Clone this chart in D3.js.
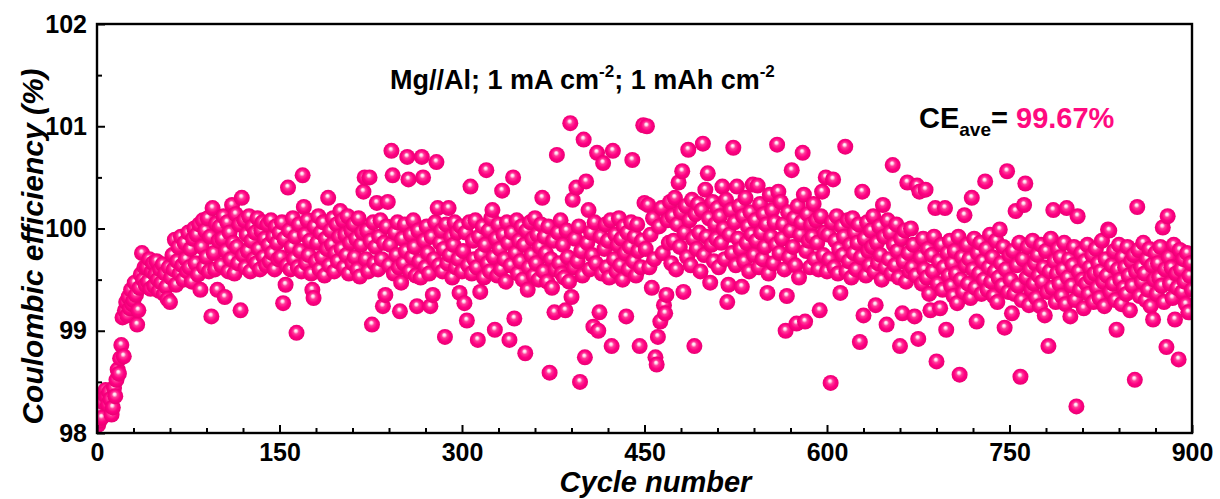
<!DOCTYPE html>
<html>
<head>
<meta charset="utf-8">
<script src="https://cdn.jsdelivr.net/npm/d3@7"></script>
<style>
  html, body { margin: 0; padding: 0; background: #ffffff; }
  svg { display: block; font-family: "Liberation Sans", Arial, sans-serif; }
</style>
</head>
<body>
<svg id="chart" width="1220" height="499"></svg>
<script>
// Coulombic efficiency (%) per cycle, Mg//Al cell, cycles 1-900, split in blocks of 150 cycles
const ceCycles1to150 = [
  98.08, 98.12, 98.22, 98.15, 98.30, 98.38, 98.42, 98.35, 98.28, 98.40,
  98.33, 98.18, 98.25, 98.44, 98.36, 98.52, 98.62, 98.58, 98.73, 98.86,
  99.13, 98.75, 99.20, 99.28, 99.15, 99.33, 99.22, 99.40, 99.26, 99.30,
  99.47, 99.35, 99.06, 99.20, 99.42, 99.55, 99.76, 99.50, 99.62, 99.45,
  99.62, 99.48, 99.70, 99.41, 99.58, 99.66, 99.44, 99.55, 99.68, 99.50,
  99.39, 99.60, 99.47, 99.65, 99.36, 99.56, 99.43, 99.31, 99.62, 99.28,
  99.52, 99.74, 99.60, 99.89, 99.45, 99.68, 99.82, 99.56, 99.92, 99.64,
  99.50, 99.86, 99.70, 99.58, 99.96, 99.62, 99.80, 99.48, 99.90, 100.00,
  99.66, 99.94, 99.55, 100.04, 99.40, 99.82, 100.08, 99.62, 99.98, 99.72,
  100.10, 99.58, 99.92, 99.14, 100.20, 99.76, 99.60, 100.05, 99.40, 99.88,
  100.02, 99.64, 99.90, 100.12, 99.33, 99.78, 100.06, 99.58, 99.96, 99.70,
  100.23, 99.86, 99.56, 100.14, 99.82, 99.66, 100.04, 99.20, 100.30, 99.74,
  100.08, 99.62, 99.94, 99.78, 100.12, 99.58, 99.88, 100.02, 99.70, 99.96,
  99.66, 100.10, 99.80, 99.60, 99.98, 100.06, 99.72, 99.90, 99.64, 100.04,
  99.84, 99.68, 100.08, 99.76, 99.92, 99.60, 100.02, 99.86, 99.70, 99.96
];
const ceCycles151to300 = [
  99.72, 100.06, 99.27, 99.90, 99.45, 99.64, 100.40, 99.98, 99.60, 99.82,
  100.10, 99.70, 99.92, 98.98, 99.62, 100.04, 99.78, 99.58, 100.52, 100.21,
  99.94, 99.66, 100.08, 99.74, 99.88, 99.56, 99.40, 99.32, 100.02, 99.68,
  99.86, 100.12, 99.60, 99.96, 99.72, 100.06, 99.54, 99.90, 99.80, 100.30,
  99.64, 99.98, 99.84, 100.10, 99.58, 99.76, 100.04, 99.68, 99.92, 100.17,
  99.80, 100.08, 99.62, 99.94, 99.74, 100.12, 99.56, 99.86, 99.98, 99.66,
  100.04, 99.72, 99.90, 99.60, 100.10, 99.53, 99.84, 99.96, 100.36, 100.50,
  99.70, 99.98, 99.58, 100.50, 99.88, 99.06, 100.06, 99.66, 99.82, 100.25,
  99.60, 99.92, 100.08, 99.70, 99.24, 99.86, 99.35, 100.02, 100.26, 99.64,
  99.84, 100.76, 100.52, 99.56, 99.96, 99.74, 100.06, 99.62, 99.19, 99.47,
  99.90, 99.66, 100.04, 99.78, 100.70, 100.48, 99.58, 99.94, 99.72, 100.08,
  99.82, 99.54, 99.24, 99.98, 99.68, 99.52, 100.70, 100.50, 99.88, 99.62,
  100.02, 99.76, 99.56, 99.24, 99.92, 99.35, 99.70, 100.06, 100.65, 100.20,
  99.64, 99.86, 99.98, 99.58, 99.80, 98.94, 100.04, 99.66, 100.20, 99.74,
  99.92, 99.52, 99.84, 100.06, 99.62, 99.96, 99.70, 99.37, 100.02, 99.58
];
const ceCycles301to450 = [
  99.78, 99.27, 99.96, 99.10, 99.64, 100.06, 100.41, 99.56, 99.88, 99.70,
  100.08, 99.62, 98.91, 99.92, 99.38, 99.74, 100.02, 99.52, 99.84, 100.57,
  99.66, 99.98, 99.58, 100.10, 100.18, 99.72, 99.01, 99.90, 99.54, 100.04,
  99.80, 99.60, 100.37, 99.94, 99.70, 99.48, 100.06, 99.86, 98.91, 99.64,
  99.96, 100.50, 99.12, 99.76, 100.08, 99.56, 99.88, 99.68, 100.02, 99.50,
  99.84, 98.78, 99.98, 99.40, 99.62, 100.06, 99.74, 99.90, 99.54, 100.10,
  99.66, 99.94, 99.50, 99.82, 100.04, 100.30, 99.58, 99.92, 99.76, 99.48,
  100.02, 98.59, 99.70, 99.42, 99.88, 99.18, 99.60, 100.72, 99.96, 99.66,
  100.08, 99.56, 99.84, 99.52, 99.20, 99.98, 99.72, 99.48, 101.03, 99.33,
  100.28, 99.62, 99.90, 100.40, 99.68, 100.02, 98.50, 99.78, 99.54, 100.87,
  98.74, 100.46, 99.86, 100.18, 99.60, 99.96, 99.74, 99.04, 100.06, 99.66,
  100.74, 99.00, 99.18, 99.92, 99.56, 100.64, 99.80, 100.04, 99.62, 99.88,
  99.52, 100.08, 98.85, 100.76, 99.70, 99.94, 99.58, 99.84, 100.10, 99.64,
  99.90, 99.50, 100.02, 99.76, 99.14, 99.96, 99.60, 99.82, 100.06, 100.67,
  99.68, 99.92, 99.54, 100.04, 99.78, 98.85, 99.62, 99.88, 101.01, 100.25
];
const ceCycles451to600 = [
  99.80, 101.00, 100.23, 99.62, 99.94, 99.42, 100.10, 99.70, 98.74, 98.67,
  98.94, 100.02, 99.09, 100.20, 99.76, 99.25, 99.17, 99.35, 100.08, 99.86,
  100.26, 99.66, 100.12, 99.88, 100.30, 99.60, 100.04, 100.45, 99.82, 100.16,
  100.56, 99.38, 99.96, 100.22, 99.72, 100.77, 100.08, 99.64, 100.28, 99.90,
  98.85, 100.14, 99.80, 100.24, 99.96, 99.58, 100.18, 100.83, 99.74, 100.38,
  99.92, 100.54, 100.10, 99.47, 99.84, 100.26, 99.68, 100.04, 99.90, 100.20,
  99.62, 100.12, 99.86, 100.41, 100.00, 99.70, 100.28, 99.28, 99.45, 99.94,
  100.18, 99.76, 100.79, 100.06, 99.64, 100.41, 99.90, 100.22, 99.80, 99.43,
  100.12, 99.68, 100.30, 99.86, 100.02, 99.58, 100.16, 99.94, 100.43, 99.74,
  100.08, 99.88, 100.42, 99.62, 100.24, 99.96, 99.70, 100.14, 99.82, 100.04,
  99.37, 99.56, 100.33, 99.92, 100.18, 99.66, 100.06, 99.84, 100.82, 100.36,
  99.76, 100.26, 99.90, 100.04, 99.60, 99.00, 99.34, 100.16, 99.72, 99.98,
  100.57, 99.82, 100.10, 99.64, 99.07, 100.22, 99.52, 99.94, 100.06, 100.74,
  100.33, 99.09, 99.78, 100.14, 99.88, 99.62, 100.04, 99.92, 100.24, 99.70,
  100.08, 99.86, 99.60, 99.20, 100.12, 100.36, 99.74, 99.96, 100.50, 99.58
];
const ceCycles601to750 = [
  99.94, 99.70, 98.49, 100.06, 100.48, 99.62, 99.88, 100.12, 99.56, 99.80,
  99.37, 100.02, 99.74, 99.92, 100.80, 99.58, 100.08, 99.68, 99.84, 99.52,
  100.10, 99.76, 99.96, 99.60, 99.86, 100.04, 98.89, 99.72, 100.36, 99.15,
  99.90, 99.54, 100.06, 99.78, 99.64, 99.98, 99.82, 100.12, 99.58, 99.25,
  99.86, 99.66, 100.02, 99.74, 99.50, 100.23, 99.92, 99.62, 99.06, 100.08,
  99.70, 99.96, 99.56, 100.62, 99.84, 99.64, 100.04, 99.78, 99.52, 98.85,
  99.90, 99.17, 99.68, 99.98, 99.48, 100.45, 99.76, 99.58, 100.00, 99.62,
  99.84, 99.14, 99.54, 100.42, 98.92, 100.36, 99.72, 99.46, 99.90, 99.60,
  100.38, 99.52, 99.80, 99.36, 99.20, 99.74, 99.58, 99.92, 100.20, 98.70,
  99.46, 99.68, 99.22, 99.84, 99.40, 99.62, 100.20, 99.01, 99.76, 99.54,
  99.88, 99.44, 99.66, 99.34, 99.78, 99.56, 99.27, 99.92, 98.57, 99.50,
  99.72, 99.38, 100.13, 99.64, 99.84, 99.46, 99.70, 99.32, 100.30, 99.60,
  99.90, 99.42, 99.09, 99.76, 99.56, 99.86, 99.36, 99.68, 99.50, 100.46,
  99.80, 99.40, 99.62, 99.94, 99.48, 99.72, 99.34, 99.58, 99.88, 99.28,
  99.52, 99.99, 99.66, 99.44, 99.82, 99.03, 99.60, 100.56, 99.38, 99.74
];
const ceCycles751to900 = [
  99.50, 99.17, 99.78, 99.36, 100.17, 99.64, 99.44, 99.86, 98.55, 99.30,
  99.70, 100.23, 100.44, 99.52, 99.82, 99.25, 99.60, 99.40, 99.88, 99.46,
  99.66, 99.32, 99.74, 99.54, 99.24, 99.84, 99.48, 99.62, 99.15, 99.78,
  99.38, 98.85, 99.58, 99.90, 99.42, 100.18, 99.68, 99.28, 99.56, 99.80,
  99.46, 99.72, 99.34, 99.60, 99.86, 99.26, 100.20, 99.52, 99.70, 99.14,
  99.44, 99.64, 99.82, 99.30, 98.26, 100.12, 99.58, 99.40, 99.76, 99.50,
  99.22, 99.68, 99.46, 99.84, 99.36, 99.62, 99.52, 99.74, 99.28, 99.56,
  99.80, 99.42, 99.66, 99.32, 99.58, 99.88, 99.48, 99.24, 99.70, 99.54,
  99.99, 99.98, 99.38, 99.64, 99.46, 99.78, 99.30, 99.01, 99.60, 99.84,
  99.50, 99.26, 99.72, 99.42, 99.62, 99.36, 99.82, 99.54, 99.20, 99.68,
  99.44, 99.74, 98.52, 99.58, 100.21, 99.79, 99.34, 99.62, 99.48, 99.86,
  99.56, 99.30, 99.70, 99.40, 99.80, 99.24, 99.64, 99.11, 99.50, 99.76,
  99.36, 99.66, 99.52, 99.82, 99.44, 100.01, 99.28, 99.60, 98.84, 100.12,
  99.72, 99.46, 99.62, 99.32, 99.84, 99.11, 99.56, 99.42, 98.72, 99.79,
  99.60, 99.38, 99.70, 99.48, 99.26, 99.76, 99.18, 99.54, 99.66, 99.40
];

// Axis ticks
const xMajorTicks = [0, 150, 300, 450, 600, 750, 900];
const xMinorTicks = [30, 60, 90, 120, 180, 210, 240, 270, 330, 360, 390, 420,
                     480, 510, 540, 570, 630, 660, 690, 720, 780, 810, 840, 870];
const yMajorTicks = [98, 99, 100, 101, 102];
const yMinorTicks = [98.5, 99.5, 100.5, 101.5];

const averageCE = "99.67%";

const ceValues = [].concat(ceCycles1to150, ceCycles151to300, ceCycles301to450,
                           ceCycles451to600, ceCycles601to750, ceCycles751to900);
const points = ceValues.map((v, i) => ({ cycle: i + 1, ce: v }));

const svg = d3.select("#chart");
const plot = { left: 97, right: 1192, top: 24, bottom: 433 };

const x = d3.scaleLinear().domain([0, 900]).range([plot.left, plot.right]);
const y = d3.scaleLinear().domain([98, 102]).range([plot.bottom, plot.top]);

const pink = "#ff0a80";

// sphere shading for the markers
const defs = svg.append("defs");
const grad = defs.append("radialGradient")
  .attr("id", "ball")
  .attr("cx", "0.5").attr("cy", "0.5").attr("r", "0.55")
  .attr("fx", "0.45").attr("fy", "0.36");
[["0%", "#ffffff"], ["14%", "#ffd6ea"], ["32%", "#ff3c9a"], ["60%", "#ff0083"], ["100%", "#e5006f"]]
  .forEach(([o, c]) => grad.append("stop").attr("offset", o).attr("stop-color", c));

defs.append("clipPath").attr("id", "plotClip")
  .append("rect")
  .attr("x", plot.left).attr("y", plot.top)
  .attr("width", plot.right - plot.left).attr("height", plot.bottom - plot.top);

// markers
svg.append("g")
  .attr("clip-path", "url(#plotClip)")
  .selectAll("circle")
  .data(points)
  .join("circle")
  .attr("cx", d => x(d.cycle))
  .attr("cy", d => y(d.ce))
  .attr("r", 8)
  .attr("fill", "url(#ball)");

// frame
svg.append("rect")
  .attr("x", plot.left).attr("y", plot.top)
  .attr("width", plot.right - plot.left).attr("height", plot.bottom - plot.top)
  .attr("fill", "none").attr("stroke", "#000").attr("stroke-width", 2.4);

// axes with inward ticks
function styleAxis(g) {
  g.select(".domain").remove();
  g.selectAll(".tick line").attr("stroke", "#000").attr("stroke-width", 2);
  g.selectAll("text")
    .attr("fill", "#000")
    .attr("font-family", "Liberation Sans, Arial, sans-serif")
    .attr("font-weight", "bold")
    .attr("font-size", 25);
}

svg.append("g")
  .attr("transform", `translate(0,${plot.bottom})`)
  .call(d3.axisBottom(x).tickValues(xMajorTicks).tickSize(-8).tickPadding(10).tickFormat(d3.format("d")))
  .call(styleAxis);
svg.append("g")
  .attr("transform", `translate(0,${plot.bottom})`)
  .call(d3.axisBottom(x).tickValues(xMinorTicks).tickSize(-5).tickFormat(""))
  .call(styleAxis);

svg.append("g")
  .attr("transform", `translate(${plot.left},0)`)
  .call(d3.axisLeft(y).tickValues(yMajorTicks).tickSize(-8).tickPadding(10).tickFormat(d3.format("d")))
  .call(styleAxis);
svg.append("g")
  .attr("transform", `translate(${plot.left},0)`)
  .call(d3.axisLeft(y).tickValues(yMinorTicks).tickSize(-5).tickFormat(""))
  .call(styleAxis);

// axis titles
svg.append("text")
  .attr("x", (plot.left + plot.right) / 2 + 11)
  .attr("y", 492)
  .attr("text-anchor", "middle")
  .attr("font-size", 29).attr("font-weight", "bold").attr("font-style", "italic")
  .text("Cycle number");

svg.append("text")
  .attr("transform", `translate(43,${(plot.top + plot.bottom) / 2 + 18}) rotate(-90)`)
  .attr("text-anchor", "middle")
  .attr("font-size", 30).attr("font-weight", "bold").attr("font-style", "italic")
  .text("Coulombic efficiency (%)");

// test condition label
const cond = svg.append("text")
  .attr("x", 390).attr("y", 89)
  .attr("font-size", 27).attr("font-weight", "bold");
cond.append("tspan").text("Mg//Al; 1 mA cm");
cond.append("tspan").attr("dy", -12).attr("font-size", 17).text("-2");
cond.append("tspan").attr("dy", 12).text("; 1 mAh cm");
cond.append("tspan").attr("dy", -12).attr("font-size", 17).text("-2");

// average efficiency label
const avg = svg.append("text")
  .attr("x", 919).attr("y", 128)
  .attr("font-size", 29).attr("font-weight", "bold");
avg.append("tspan").text("CE");
avg.append("tspan").attr("dy", 8).attr("font-size", 19).text("ave");
avg.append("tspan").attr("dy", -8).text("= ");
avg.append("tspan").attr("fill", pink).text(averageCE);
</script>
</body>
</html>
